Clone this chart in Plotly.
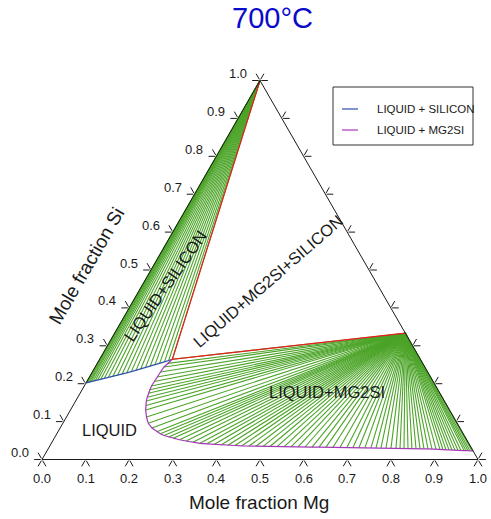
import plotly.graph_objects as go

# Al-Mg-Si isothermal section at 700 °C (mole fractions)

# Liquid compositions on the LIQUID + SILICON boundary (tie-lines end at pure Si)
liq_si_mg = [0.0, 0.002, 0.004, 0.007, 0.010, 0.014, 0.018, 0.023, 0.029, 0.036,
             0.044, 0.053, 0.062, 0.071, 0.080, 0.089, 0.098, 0.107, 0.116, 0.125,
             0.134, 0.143, 0.152, 0.160, 0.1667]
liq_si_si = [0.2020, 0.2026, 0.2032, 0.2040, 0.2050, 0.2062, 0.2074, 0.2090, 0.2108, 0.2131,
             0.2157, 0.2188, 0.2219, 0.2251, 0.2284, 0.2318, 0.2352, 0.2388, 0.2424, 0.2461,
             0.2498, 0.2537, 0.2576, 0.2612, 0.2644]

# Liquid compositions on the LIQUID + MG2SI boundary (tie-lines end at Mg2Si)
liq_mg2si_mg = [0.1667, 0.1620, 0.1578, 0.1564, 0.1550, 0.1544, 0.1541, 0.1554, 0.1565, 0.1593,
                0.1620, 0.1673, 0.1725, 0.1836, 0.1960, 0.2107, 0.2264, 0.2373, 0.2481, 0.2607,
                0.2731, 0.2895, 0.3059, 0.3235, 0.3410,
                0.3577, 0.3746, 0.3913, 0.4077, 0.4242, 0.4406, 0.4570, 0.4732, 0.4896, 0.5057,
                0.5220, 0.5382, 0.5545, 0.5707, 0.5867, 0.6029, 0.6189, 0.6351, 0.6511, 0.6674,
                0.6834, 0.6973, 0.7112, 0.7251, 0.7390, 0.7506, 0.7622, 0.7738, 0.7853, 0.7968,
                0.8062, 0.8154, 0.8246, 0.8339, 0.8433, 0.8526, 0.8620, 0.8713, 0.8806, 0.8901,
                0.8993, 0.9065, 0.9135, 0.9207, 0.9278, 0.9348, 0.9419, 0.9491, 0.9561, 0.9609,
                0.9656, 0.9703, 0.9750, 0.9776]
liq_mg2si_si = [0.2644, 0.2536, 0.2441, 0.2309, 0.2177, 0.2058, 0.1939, 0.1842, 0.1747, 0.1644,
                0.1544, 0.1425, 0.1306, 0.1121, 0.0955, 0.0831, 0.0734, 0.0681, 0.0633, 0.0594,
                0.0559, 0.0522, 0.0488, 0.0456, 0.0427,
                0.0414, 0.0398, 0.0385, 0.0377, 0.0369, 0.0361, 0.0356, 0.0351, 0.0346, 0.0343,
                0.0340, 0.0335, 0.0332, 0.0330, 0.0330, 0.0327, 0.0327, 0.0325, 0.0325, 0.0322,
                0.0322, 0.0319, 0.0317, 0.0314, 0.0311, 0.0309, 0.0306, 0.0303, 0.0303, 0.0301,
                0.0298, 0.0298, 0.0296, 0.0293, 0.0290, 0.0288, 0.0282, 0.0280, 0.0277, 0.0272,
                0.0269, 0.0264, 0.0261, 0.0256, 0.0251, 0.0248, 0.0243, 0.0237, 0.0235, 0.0232,
                0.0230, 0.0227, 0.0224, 0.0224]

# Solid phases
silicon = (0.0, 1.0)
mg2si = (0.6667, 0.3333)

# Three-phase triangle LIQUID + MG2SI + SILICON: the two sides leaving the liquid corner
three_phase_mg = [0.6667, 0.1667, 0.0]
three_phase_si = [0.3333, 0.2644, 1.0]

tick_values = [0.0, 0.1, 0.2, 0.3, 0.4, 0.5, 0.6, 0.7, 0.8, 0.9, 1.0]
tick_labels = ["0.0", "0.1", "0.2", "0.3", "0.4", "0.5", "0.6", "0.7", "0.8", "0.9", "1.0"]

W, H = 491, 519
GREEN = "rgb(76,164,40)"
BLUE = "rgb(45,80,170)"
PURPLE = "rgb(165,55,185)"
RED = "rgb(232,30,30)"
INK = "#1a1a1a"
FONT = "Liberation Sans, Arial, sans-serif"


def xy(mg, si):
    """Composition -> planar coordinates of the equilateral triangle."""
    return mg + si / 2.0, si


def fan(ends_mg, ends_si, corner):
    cx, cy = xy(*corner)
    xs, ys = [], []
    for m, s in zip(ends_mg, ends_si):
        x, y = xy(m, s)
        xs += [x, cx, None]
        ys += [y, cy, None]
    return xs, ys


def path(ms, ss):
    pts = [xy(m, s) for m, s in zip(ms, ss)]
    return [p[0] for p in pts], [p[1] for p in pts]


def px(xp, yp):
    return xp / W, 1 - yp / H


fig = go.Figure()

# tie-lines
for ends_mg, ends_si, corner in [(liq_si_mg, liq_si_si, silicon),
                                 (liq_mg2si_mg, liq_mg2si_si, mg2si)]:
    fx, fy = fan(ends_mg, ends_si, corner)
    fig.add_trace(go.Scatter(x=fx, y=fy, mode="lines", hoverinfo="skip",
                             line=dict(color=GREEN, width=1.1), showlegend=False))

# phase boundaries
bx, by = path(liq_si_mg, liq_si_si)
fig.add_trace(go.Scatter(x=bx, y=by, mode="lines", line=dict(color=BLUE, width=1.2),
                         showlegend=False))
px_, py_ = path(liq_mg2si_mg, liq_mg2si_si)
fig.add_trace(go.Scatter(x=px_, y=py_, mode="lines", line=dict(color=PURPLE, width=1.2),
                         showlegend=False))
tx, ty = path(three_phase_mg, three_phase_si)
fig.add_trace(go.Scatter(x=tx, y=ty, mode="lines", line=dict(color=RED, width=1.2),
                         showlegend=False))

# triangle frame
ex, ey = path([0.0, 1.0, 0.0, 0.0], [0.0, 0.0, 1.0, 0.0])
fig.add_trace(go.Scatter(x=ex, y=ey, mode="lines", line=dict(color=INK, width=1),
                         showlegend=False))

# ticks: two short strokes pointing outward, parallel to the other two sides
TICK, GAP = 0.015, 0.003
kx, ky = [], []


def stroke(m, s, dm, ds):
    x0, y0 = xy(m + GAP * dm, s + GAP * ds)
    x1, y1 = xy(m + (GAP + TICK) * dm, s + (GAP + TICK) * ds)
    kx.extend([x0, x1, None])
    ky.extend([y0, y1, None])


for t in tick_values:
    # bottom side (Mg axis)
    stroke(t, 0.0, 0.0, -1.0)
    stroke(t, 0.0, 1.0, -1.0)
    # left side (Si axis)
    stroke(0.0, t, -1.0, 0.0)
    stroke(0.0, t, -1.0, 1.0)
    # right side
    stroke(1.0 - t, t, 1.0, 0.0)
    stroke(1.0 - t, t, 0.0, 1.0)
fig.add_trace(go.Scatter(x=kx, y=ky, mode="lines", line=dict(color=INK, width=1),
                         showlegend=False))

ann = []
for t, lab in zip(tick_values, tick_labels):
    x, y = xy(t, 0.0)
    ann.append(dict(x=x, y=y, xref="x", yref="y", text=lab, showarrow=False,
                    yshift=-19, font=dict(size=13, color=INK, family=FONT)))
    x, y = xy(0.0, t)
    ann.append(dict(x=x, y=y, xref="x", yref="y", text=lab, showarrow=False,
                    xshift=-22, yshift=7, font=dict(size=13, color=INK, family=FONT)))


def label(text, xp, yp, size, angle=0, color=INK, anchor="center"):
    x, y = px(xp, yp)
    ann.append(dict(x=x, y=y, xref="paper", yref="paper", text=text, showarrow=False,
                    textangle=angle, xanchor=anchor, yanchor="middle",
                    font=dict(size=size, color=color, family=FONT)))


label("700°C", 272, 18, 29, color="rgb(10,10,205)")
label("Mole fraction Mg", 259, 502, 19)
label("Mole fraction Si", 86, 266, 19, angle=-60)
label("LIQUID", 109, 430, 16.5)
label("LIQUID+MG2SI", 327, 392, 16.5)
label("LIQUID+SILICON", 165, 286, 16.5, angle=-55)
label("LIQUID+MG2SI+SILICON", 268, 281, 16.5, angle=-41)

# legend
label("LIQUID + SILICON", 375, 109, 11.5, anchor="left")
label("LIQUID + MG2SI", 375, 130, 11.5, anchor="left")
shapes = []
x0, y0 = px(333, 87)
x1, y1 = px(473, 145)
shapes.append(dict(type="rect", xref="paper", yref="paper", x0=x0, y0=y1, x1=x1, y1=y0,
                   line=dict(color="#333333", width=1), fillcolor="rgba(0,0,0,0)"))
for yy, col in [(109, BLUE), (130, PURPLE)]:
    a0, b0 = px(342, yy)
    a1, _ = px(358, yy)
    shapes.append(dict(type="line", xref="paper", yref="paper", x0=a0, y0=b0, x1=a1, y1=b0,
                       line=dict(color=col, width=1.2)))

fig.update_layout(
    width=W, height=H, autosize=False,
    margin=dict(l=0, r=0, t=0, b=0),
    paper_bgcolor="white", plot_bgcolor="white",
    xaxis=dict(range=[-42 / 436, 449 / 436], visible=False, fixedrange=True),
    yaxis=dict(range=[(459.5 - 519) / 379, 459.5 / 379], visible=False, fixedrange=True),
    annotations=ann, shapes=shapes, showlegend=False,
)

fig.write_html("out.html")
